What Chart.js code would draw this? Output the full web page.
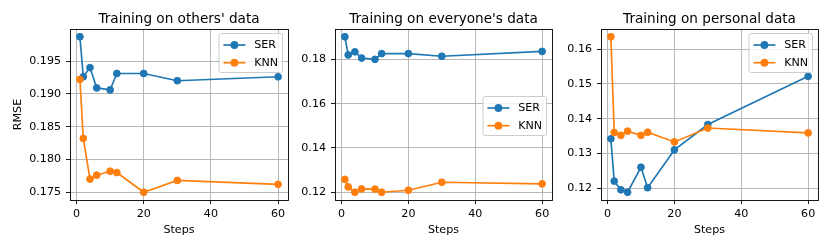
<!DOCTYPE html>
<html>
<head>
<meta charset="utf-8">
<script src="https://cdn.jsdelivr.net/npm/chart.js@4"></script>
<style>
  html, body { margin: 0; padding: 0; background: #fff; }
  #wrap { position: relative; width: 830px; height: 249px; overflow: hidden; }
  canvas { position: absolute; top: 0; }
</style>
</head>
<body>
<div id="wrap">
  <canvas id="chart_others" width="300" height="249" style="left:0px"></canvas>
  <canvas id="chart_everyone" width="260" height="249" style="left:300px"></canvas>
  <canvas id="chart_personal" width="270" height="249" style="left:560px"></canvas>
</div>
<script>
// values
const steps = [1, 2, 4, 6, 10, 12, 20, 30, 60]
const stepTicks = [0, 20, 40, 60]

const othersSer = [0.1987, 0.1926, 0.1940, 0.1909, 0.1906, 0.1931, 0.1931, 0.1920, 0.1926]
const othersKnn = [0.1922, 0.1832, 0.1770, 0.1776, 0.1782, 0.1780, 0.1750, 0.1768, 0.1762]
const othersTicks = [0.175, 0.180, 0.185, 0.190, 0.195]

const everyoneSer = [0.1902, 0.1820, 0.1834, 0.1806, 0.1800, 0.1826, 0.1826, 0.1814, 0.1836]
const everyoneKnn = [0.1258, 0.1224, 0.1200, 0.1215, 0.1214, 0.1200, 0.1209, 0.1245, 0.1238]
const everyoneTicks = [0.12, 0.14, 0.16, 0.18]

const personalSer = [0.1342, 0.1220, 0.1195, 0.1188, 0.1260, 0.1201, 0.1310, 0.1383, 0.1522]
const personalKnn = [0.1636, 0.1360, 0.1352, 0.1364, 0.1352, 0.1361, 0.1333, 0.1373, 0.1359]
const personalTicks = [0.12, 0.13, 0.14, 0.15, 0.16]

const serColor = '#1f77b4'
const knnColor = '#ff7f0e'
const FONT = 'DejaVu Sans'

// black box around the plot area, like matplotlib spines
const framePlugin = {
  id: 'frame',
  afterDatasetsDraw(chart) {
    const a = chart.chartArea
    const ctx = chart.ctx
    ctx.save()
    ctx.strokeStyle = '#000'
    ctx.lineWidth = 0.9
    ctx.strokeRect(Math.round(a.left) + 0.5, Math.round(a.top) + 0.5, Math.round(a.right - a.left), Math.round(a.bottom - a.top))
    ctx.restore()
  }
}

// title centered above the plot area
const axTitlePlugin = {
  id: 'axTitle',
  afterDraw(chart, args, opts) {
    const a = chart.chartArea
    const ctx = chart.ctx
    ctx.save()
    ctx.font = '13.6px "' + FONT + '"'
    ctx.fillStyle = '#000'
    ctx.textAlign = 'center'
    ctx.textBaseline = 'alphabetic'
    ctx.fillText(opts.text, (a.left + a.right) / 2, a.top - 6)
    ctx.restore()
  }
}

// legend drawn inside the plot area
const insideLegendPlugin = {
  id: 'insideLegend',
  afterDraw(chart, args, opts) {
    const a = chart.chartArea
    const ctx = chart.ctx
    const items = chart.data.datasets.map(d => ({ label: d.label, color: d.borderColor }))
    ctx.save()
    ctx.font = '11.1px "' + FONT + '"'
    let textW = 0
    items.forEach(it => { textW = Math.max(textW, ctx.measureText(it.label).width) })
    const w = 4.4 + 22 + 8.8 + textW + 4.4
    const h = 39
    const left = a.right - 5.5 - w
    let top = a.top + 4.5
    if (opts.loc === 'center right') top = (a.top + a.bottom) / 2 - h / 2 + 1.5

    ctx.beginPath()
    ctx.roundRect(left, top, w, h, 2.2)
    ctx.fillStyle = 'rgba(255,255,255,0.8)'
    ctx.fill()
    ctx.strokeStyle = '#cccccc'
    ctx.lineWidth = 1
    ctx.stroke()

    items.forEach((it, i) => {
      const y = top + 11.5 + i * 17.7
      const x0 = left + 4.4
      ctx.strokeStyle = it.color
      ctx.lineWidth = 1.67
      ctx.beginPath()
      ctx.moveTo(x0, y)
      ctx.lineTo(x0 + 22, y)
      ctx.stroke()
      ctx.beginPath()
      ctx.arc(x0 + 11, y, 3.9, 0, Math.PI * 2)
      ctx.fillStyle = it.color
      ctx.fill()
      ctx.fillStyle = '#000'
      ctx.textAlign = 'left'
      ctx.textBaseline = 'middle'
      ctx.fillText(it.label, x0 + 22 + 8.8, y + 0.5)
    })
    ctx.restore()
  }
}

function toPoints(ys) {
  return steps.map((x, i) => ({ x: x, y: ys[i] }))
}

function paddedRange(values) {
  const lo = Math.min(...values)
  const hi = Math.max(...values)
  const m = (hi - lo) * 0.05
  return [lo - m, hi + m]
}

function makeDataset(label, color, ys, order) {
  return {
    label: label,
    data: toPoints(ys),
    borderColor: color,
    backgroundColor: color,
    borderWidth: 1.67,
    pointRadius: 3.4,
    pointBorderWidth: 1,
    pointHoverRadius: 3.4,
    tension: 0,
    fill: false,
    order: order,
  }
}

function createPanel(canvasId, opts) {
  const ctx = document.getElementById(canvasId).getContext('2d')
  const yRange = paddedRange(opts.ser.concat(opts.knn))
  const xRange = paddedRange(steps)
  const tickFont = { family: FONT, size: 11.1 }
  const gridOpts = { color: '#b0b0b0', lineWidth: 0.9, tickLength: 4, tickColor: '#000', tickWidth: 0.9, drawTicks: true }

  return new Chart(ctx, {
    type: 'line',
    data: {
      datasets: [
        makeDataset('SER', serColor, opts.ser, 1),
        makeDataset('KNN', knnColor, opts.knn, 0),
      ]
    },
    options: {
      responsive: false,
      animation: false,
      devicePixelRatio: 1,
      layout: { padding: { left: 0, top: 29, right: opts.padRight, bottom: 0 } },
      scales: {
        x: {
          type: 'linear',
          min: xRange[0],
          max: xRange[1],
          afterBuildTicks: s => { s.ticks = stepTicks.map(v => ({ value: v })) },
          afterFit: s => { s.height = 49 },
          ticks: { font: tickFont, color: '#000', padding: 3, maxRotation: 0, callback: v => String(v) },
          grid: gridOpts,
          border: { display: false },
          title: { display: true, text: 'Steps', font: tickFont, color: '#000', padding: { top: 0, bottom: 12.5 } },
        },
        y: {
          type: 'linear',
          min: yRange[0],
          max: yRange[1],
          afterBuildTicks: s => { s.ticks = opts.yTicks.map(v => ({ value: v })) },
          afterFit: s => { s.width = opts.axisWidth },
          ticks: { font: tickFont, color: '#000', padding: 5, callback: v => v.toFixed(opts.decimals) },
          grid: gridOpts,
          border: { display: false },
          title: { display: !!opts.yTitle, text: opts.yTitle || '', font: tickFont, color: '#000', padding: { top: 11.5, bottom: 0 } },
        }
      },
      plugins: {
        legend: { display: false },
        tooltip: { enabled: false },
        axTitle: { text: opts.title },
        insideLegend: { loc: opts.legendLoc },
      }
    },
    plugins: [framePlugin, axTitlePlugin, insideLegendPlugin]
  })
}

createPanel('chart_others', {
  title: "Training on others' data", ser: othersSer, knn: othersKnn, yTicks: othersTicks,
  decimals: 3, axisWidth: 70, padRight: 12, legendLoc: 'upper right', yTitle: 'RMSE'
})
createPanel('chart_everyone', {
  title: "Training on everyone's data", ser: everyoneSer, knn: everyoneKnn, yTicks: everyoneTicks,
  decimals: 2, axisWidth: 35, padRight: 8, legendLoc: 'center right'
})
createPanel('chart_personal', {
  title: 'Training on personal data', ser: personalSer, knn: personalKnn, yTicks: personalTicks,
  decimals: 2, axisWidth: 41, padRight: 12, legendLoc: 'upper right'
})
</script>
</body>
</html>
